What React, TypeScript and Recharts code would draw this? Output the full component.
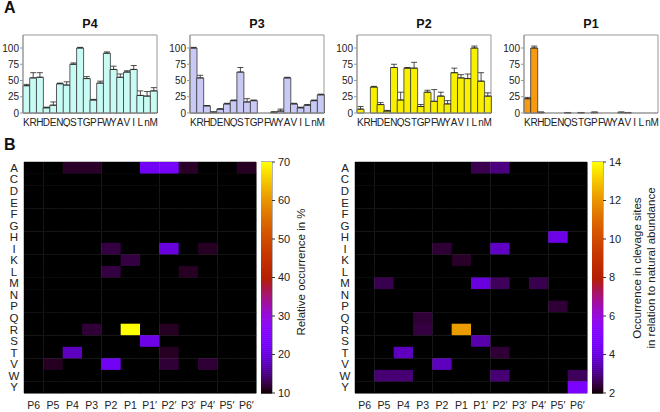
import React from 'react';
import { BarChart, Bar, XAxis, YAxis, ErrorBar, ScatterChart, Scatter, ReferenceArea } from 'recharts';

const FONT = 'Arial, "Liberation Sans", Helvetica, sans-serif';

// ---------- Panel A data ----------
const AMINO = ['K', 'R', 'H', 'D', 'E', 'N', 'Q', 'S', 'T', 'G', 'P', 'F', 'W', 'Y', 'A', 'V', 'I', 'L', 'n', 'M'];
const Y_TICKS = [0, 25, 50, 75, 100];

const P4_VAL = [42, 54, 55, 8, 12, 45, 43, 75, 100, 53, 20, 46, 92, 67, 55, 63, 67, 27, 26, 34];
const P4_ERR = [2, 8, 7, 1, 5, 1, 5, 2, 1, 3, 1, 3, 2, 5, 5, 2, 6, 7, 7, 5];

const P3_VAL = [100, 54, 11, 1, 6, 14, 19, 63, 17, 19, 0, 0, 1, 3, 54, 14, 8, 12, 19, 28];
const P3_ERR = [1, 4, 0.5, 1, 0.5, 1, 1, 7, 5, 1, 0, 0, 1, 3, 1, 1, 1, 1, 1, 1];

const P2_VAL = [6, 0, 40, 13, 3, 70, 20, 69, 69, 10, 32, 18, 26, 14, 62, 54, 53, 100, 49, 26];
const P2_ERR = [4, 12, 1, 3, 1, 5, 12, 1, 9, 3, 3, 18, 6, 5, 7, 5, 7, 3, 13, 5];

const P1_VAL = [22, 100, 1, 0, 0, 0, 0.5, 0, 0.5, 0, 1, 0, 0, 0, 1, 0.5, 0, 0, 0, 0];
const P1_ERR = [2, 3, 0.5, 0, 0, 0, 0.3, 0, 0.3, 0, 0.5, 0, 0, 0, 0.5, 0.3, 0, 0, 0, 0];

// ---------- Panel B data ----------
const HEAT_ROWS = ['A', 'C', 'D', 'E', 'F', 'G', 'H', 'I', 'K', 'L', 'M', 'N', 'P', 'Q', 'R', 'S', 'T', 'V', 'W', 'Y'];
const HEAT_COLS = ['P6', 'P5', 'P4', 'P3', 'P2', 'P1', 'P1′', 'P2′', 'P3′', 'P4′', 'P5′', 'P6′'];

const REL_MIN = 10;
const REL_MAX = 70;
const REL_TICKS = [10, 20, 30, 40, 50, 60, 70];
const REL_CELLS: [string, string, number][] = [
  ['A', 'P4', 11.5], ['A', 'P3', 11.5], ['A', 'P1′', 22], ['A', 'P2′', 23], ['A', 'P3′', 11.5], ['A', 'P6′', 11.3],
  ['I', 'P2', 12.5], ['I', 'P2′', 20], ['I', 'P4′', 11.3],
  ['K', 'P1', 12.5],
  ['L', 'P2', 12.5], ['L', 'P3′', 11.3],
  ['R', 'P3', 12], ['R', 'P1', 70], ['R', 'P2′', 11.3],
  ['S', 'P1′', 21],
  ['T', 'P4', 18], ['T', 'P2′', 11.3],
  ['V', 'P5', 11.3], ['V', 'P2', 22], ['V', 'P2′', 12], ['V', 'P4′', 12],
];

const NAT_MIN = 2;
const NAT_MAX = 14;
const NAT_TICKS = [2, 4, 6, 8, 10, 12, 14];
const NAT_CELLS: [string, string, number][] = [
  ['A', 'P1′', 2.6], ['A', 'P2′', 3.0],
  ['H', 'P5′', 4.2],
  ['I', 'P2', 2.4], ['I', 'P2′', 3.7],
  ['K', 'P1', 2.3],
  ['M', 'P5', 2.6], ['M', 'P1′', 4.0], ['M', 'P2′', 2.7], ['M', 'P4′', 2.6],
  ['P', 'P5′', 2.4],
  ['Q', 'P3', 2.4],
  ['R', 'P3', 2.5], ['R', 'P1', 12.2],
  ['S', 'P1′', 3.4],
  ['T', 'P4', 3.6], ['T', 'P2′', 2.4],
  ['V', 'P2', 3.6],
  ['W', 'P5', 2.9], ['W', 'P4', 2.9], ['W', 'P2′', 2.9], ['W', 'P6′', 2.7],
  ['Y', 'P6′', 4.8],
];

// gnuplot default pm3d palette (rgbformulae 7,5,15)
const palette = (t: number) => {
  const x = Math.max(0, Math.min(1, t));
  const r = Math.sqrt(x);
  const g = x * x * x;
  const b = Math.max(0, Math.sin(2 * Math.PI * x));
  const h = (c: number) => Math.round(c * 255);
  return `rgb(${h(r)},${h(g)},${h(b)})`;
};

// ---------- Bar panel ----------
const BAR_W = 134;
const BAR_H = 78;
const Y_AXIS_W = 24;

type BarPanelProps = { title: string; values: number[]; errors: number[]; color: string; boxLeft: number };

const BarPanel = ({ title, values, errors, color, boxLeft }: BarPanelProps) => {
  const data = AMINO.map((aa, i) => ({ aa, v: values[i], e: [0, errors[i]] }));
  return (
    <>
      <div style={{ position: 'absolute', left: boxLeft, top: 17, width: BAR_W, textAlign: 'center', fontWeight: 'bold', fontSize: 12.5, color: '#111' }}>
        {title}
      </div>
      <div style={{ position: 'absolute', left: boxLeft - Y_AXIS_W, top: 33 }}>
        <BarChart width={Y_AXIS_W + BAR_W + 2} height={2 + BAR_H + 14} data={data} margin={{ top: 2, right: 2, left: 0, bottom: 0 }} barCategoryGap={0}>
          <XAxis dataKey="aa" interval={0} tickLine={false} axisLine={{ stroke: '#999' }} height={14} tick={{ fontSize: 10, fill: '#222', fontFamily: FONT }} tickMargin={0} />
          <YAxis domain={[0, 120]} ticks={Y_TICKS} interval={0} width={Y_AXIS_W} tickLine={{ stroke: '#999' }} tickSize={3} tickMargin={1} axisLine={{ stroke: '#999' }} tick={{ fontSize: 10, fill: '#222', fontFamily: FONT }} />
          <Bar dataKey="v" fill={color} stroke="#333" strokeWidth={0.8} isAnimationActive={false}>
            <ErrorBar dataKey="e" width={3} stroke="#222" strokeWidth={0.8} direction="y" />
          </Bar>
          <ReferenceArea y1={0} y2={120} fill="none" stroke="#999" strokeWidth={1} ifOverflow="visible" />
        </BarChart>
      </div>
    </>
  );
};

// ---------- Heatmap panel ----------
const HEAT_TOP = 158;
const HEAT_MARGIN_TOP = 4;
const HEAT_PLOT_W = 232;
const HEAT_PLOT_H = 231;
const HEAT_Y_AXIS_W = 24;
const HEAT_X_AXIS_H = 18;
const CELL_W = HEAT_PLOT_W / HEAT_COLS.length;
const CELL_H = HEAT_PLOT_H / HEAT_ROWS.length;

const HeatCell = (props: any) => {
  const { cx, cy, payload } = props;
  if (cx == null || cy == null) return null;
  return <rect x={cx - CELL_W / 2} y={cy - CELL_H / 2} width={CELL_W + 0.4} height={CELL_H + 0.4} fill={payload.color} />;
};

type HeatProps = { cells: [string, string, number][]; min: number; max: number; boxLeft: number };

const Heatmap = ({ cells, min, max, boxLeft }: HeatProps) => {
  const lookup: Record<string, number> = {};
  cells.forEach(([r, c, v]) => { lookup[r + '|' + c] = v; });
  const data: { x: number; y: number; v: number; color: string }[] = [];
  HEAT_ROWS.forEach((r, ri) => {
    HEAT_COLS.forEach((c, ci) => {
      const v = lookup[r + '|' + c] ?? min;
      data.push({ x: ci, y: ri, v, color: palette((v - min) / (max - min)) });
    });
  });
  return (
    <div style={{ position: 'absolute', left: boxLeft - HEAT_Y_AXIS_W, top: HEAT_TOP }}>
      <ScatterChart width={HEAT_Y_AXIS_W + HEAT_PLOT_W + 2} height={HEAT_MARGIN_TOP + HEAT_PLOT_H + HEAT_X_AXIS_H} margin={{ top: HEAT_MARGIN_TOP, right: 2, left: 0, bottom: 0 }}>
        <XAxis type="number" dataKey="x" domain={[-0.5, HEAT_COLS.length - 0.5]} ticks={HEAT_COLS.map((_, i) => i)} interval={0}
          tickFormatter={(i: number) => HEAT_COLS[i]} tickLine={false} axisLine={false} height={HEAT_X_AXIS_H}
          tick={{ fontSize: 10.5, fill: '#222', fontFamily: FONT }} tickMargin={3} />
        <YAxis type="number" dataKey="y" domain={[-0.5, HEAT_ROWS.length - 0.5]} reversed ticks={HEAT_ROWS.map((_, i) => i)} interval={0}
          tickFormatter={(i: number) => HEAT_ROWS[i]} tickLine={false} axisLine={false} width={HEAT_Y_AXIS_W}
          tick={{ fontSize: 11.5, fill: '#222', fontFamily: FONT, textAnchor: 'middle' }} tickMargin={0} tickSize={0} dx={-10} />
        <Scatter data={data} shape={HeatCell} isAnimationActive={false} />
        <ReferenceArea x1={-0.5} x2={HEAT_COLS.length - 0.5} y1={-0.5} y2={HEAT_ROWS.length - 0.5} fill="none" stroke="#888" strokeWidth={1} ifOverflow="visible" />
      </ScatterChart>
    </div>
  );
};

// ---------- Colour bar ----------
const STEPS = 116;
const BAR_PLOT_W = 11;
const CB_PAD = 8;
type ColorBarProps = { min: number; max: number; ticks: number[]; left: number };

const BandCell = (props: any) => {
  const { cx, cy, payload } = props;
  if (cx == null || cy == null) return null;
  const h = HEAT_PLOT_H / STEPS;
  return <rect x={cx - BAR_PLOT_W / 2} y={cy - h / 2} width={BAR_PLOT_W} height={h + 0.6} fill={payload.color} />;
};

const ColorBar = ({ min, max, ticks, left }: ColorBarProps) => {
  const bands = Array.from({ length: STEPS }, (_, i) => ({
    x: 0.5,
    y: min + ((max - min) * (i + 0.5)) / STEPS,
    color: palette((i + 0.5) / STEPS),
  }));
  return (
    <div style={{ position: 'absolute', left, top: HEAT_TOP + HEAT_MARGIN_TOP - CB_PAD }}>
      <ScatterChart width={BAR_PLOT_W + 30} height={CB_PAD * 2 + HEAT_PLOT_H} margin={{ top: CB_PAD, right: 0, left: 0, bottom: CB_PAD }}>
        <XAxis type="number" dataKey="x" domain={[0, 1]} hide />
        <YAxis type="number" dataKey="y" orientation="right" domain={[min, max]} ticks={ticks} interval={0} width={30}
          tickLine={{ stroke: '#333' }} tickSize={3} axisLine={false} tick={{ fontSize: 11, fill: '#222', fontFamily: FONT }} tickMargin={3} />
        <Scatter data={bands} shape={BandCell} isAnimationActive={false} />
        <ReferenceArea x1={0} x2={1} y1={min} y2={max} fill="none" stroke="#666" strokeWidth={1} ifOverflow="visible" />
      </ScatterChart>
    </div>
  );
};

const vLabel = (text: string, cx: number, cy: number, size = 11.5) => (
  <div style={{ position: 'absolute', left: cx - 150, top: cy - 8, width: 300, height: 16, lineHeight: '16px', textAlign: 'center', fontSize: size, color: '#222', transform: 'rotate(-90deg)', whiteSpace: 'nowrap' }}>
    {text}
  </div>
);

export default function App() {
  return (
    <div style={{ position: 'absolute', left: 0, top: 0, width: 660, height: 412, background: '#fff', fontFamily: FONT, overflow: 'hidden' }}>
      <div style={{ position: 'absolute', left: 4, top: -1, fontSize: 16, fontWeight: 'bold', color: '#111' }}>A</div>
      <div style={{ position: 'absolute', left: 4, top: 136, fontSize: 16, fontWeight: 'bold', color: '#111' }}>B</div>

      <BarPanel title="P4" values={P4_VAL} errors={P4_ERR} color="#c8fbf3" boxLeft={23} />
      <BarPanel title="P3" values={P3_VAL} errors={P3_ERR} color="#c9c9f5" boxLeft={190} />
      <BarPanel title="P2" values={P2_VAL} errors={P2_ERR} color="#f8f000" boxLeft={357} />
      <BarPanel title="P1" values={P1_VAL} errors={P1_ERR} color="#f89a10" boxLeft={524} />

      <Heatmap cells={REL_CELLS} min={REL_MIN} max={REL_MAX} boxLeft={24} />
      <ColorBar min={REL_MIN} max={REL_MAX} ticks={REL_TICKS} left={261} />
      {vLabel('Relative occurrence in %', 301, 272)}

      <Heatmap cells={NAT_CELLS} min={NAT_MIN} max={NAT_MAX} boxLeft={355} />
      <ColorBar min={NAT_MIN} max={NAT_MAX} ticks={NAT_TICKS} left={592} />
      {vLabel('Occurrence in clevage sites', 637, 268)}
      {vLabel('in relation to natural abundance', 651, 268)}
    </div>
  );
}
